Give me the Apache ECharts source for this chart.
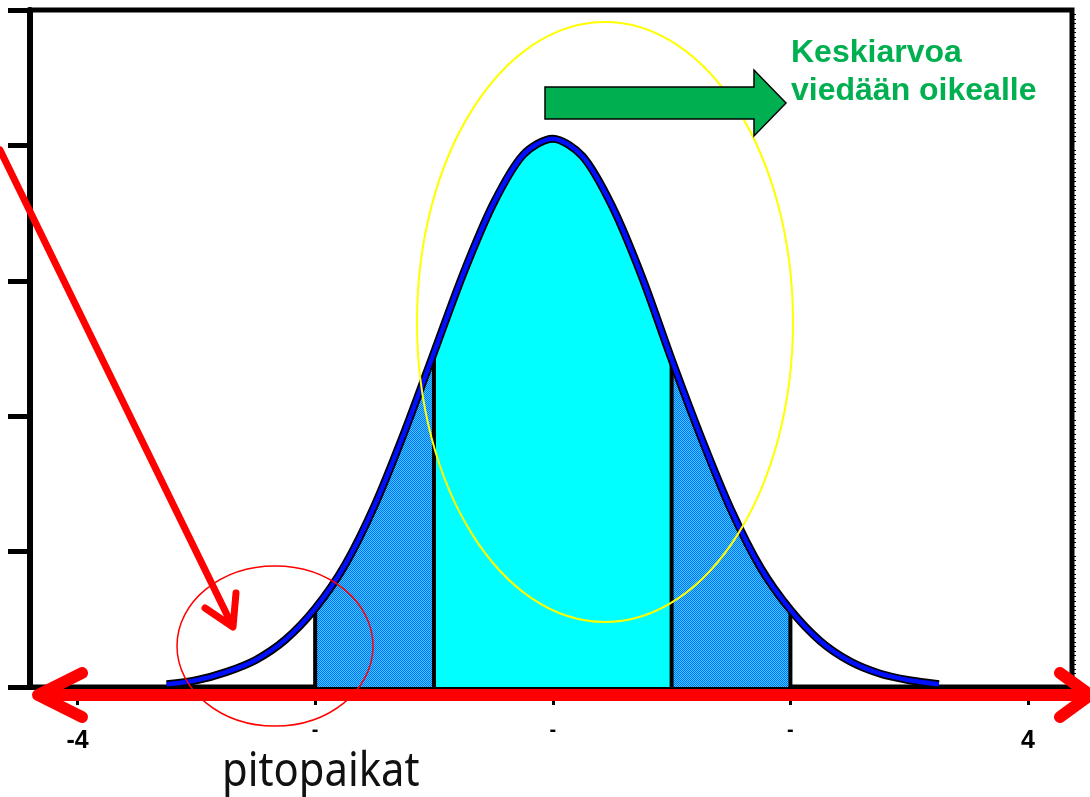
<!DOCTYPE html>
<html>
<head>
<meta charset="utf-8">
<script src="https://cdn.jsdelivr.net/npm/echarts@6/dist/echarts.min.js"></script>
<style>
  html, body { margin: 0; padding: 0; background: #fff; }
  #chart { width: 1090px; height: 797px; }
</style>
</head>
<body>
<div id="chart"></div>
<script>
// curve (x in sd units, y = density)
const xs = [-3.25, -3, -2.75, -2.5, -2.25, -2, -1.75, -1.5, -1.25, -1, -0.75, -0.5, -0.25, 0,
            0.25, 0.5, 0.75, 1, 1.25, 1.5, 1.75, 2, 2.25, 2.5, 2.75, 3, 3.25];
const density = [0.002, 0.005, 0.011, 0.02, 0.035, 0.058, 0.09, 0.134, 0.188, 0.247, 0.306, 0.357, 0.393, 0.405,
                 0.392, 0.355, 0.303, 0.242, 0.184, 0.131, 0.088, 0.057, 0.034, 0.019, 0.01, 0.005, 0.002];
const bounds = [-2, -1, 1, 2];
const xTicks = [-4, -2, 0, 2, 4];
const xTickLabels = ['-4', '-', '-', '-', '4'];

const pts = xs.map((x, i) => [x, density[i]]);
const slice = (a, b) => pts.filter(p => p[0] >= a && p[0] <= b);

// dotted blue fill
const pc = document.createElement('canvas');
pc.width = 2; pc.height = 2;
const pctx = pc.getContext('2d');
pctx.fillStyle = '#38ccff'; pctx.fillRect(0, 0, 2, 2);
pctx.fillStyle = '#0a6cff'; pctx.fillRect(0, 0, 1, 1); pctx.fillRect(1, 1, 1, 1);
const dotted = { image: pc, repeat: 'repeat' };

const chart = echarts.init(document.getElementById('chart'));

const areaSeries = (data, color) => ({
  type: 'line', data: data, smooth: 0.3, symbol: 'none', z: 2,
  lineStyle: { width: 0 }, areaStyle: { color: color, opacity: 1 }
});

const series = [
  areaSeries(slice(-2, -1), dotted),
  areaSeries(slice(1, 2), dotted),
  areaSeries(slice(-1, 1), '#00ffff')
];
bounds.forEach(b => {
  series.push({
    type: 'line', symbol: 'none', z: 3,
    data: [[b, 0], [b, density[xs.indexOf(b)]]],
    lineStyle: { color: '#000', width: 4 }
  });
});
series.push({
  type: 'line', data: pts, smooth: 0.3, symbol: 'none', z: 4,
  lineStyle: { color: '#000', width: 8 }
});
series.push({
  type: 'line', data: pts, smooth: 0.3, symbol: 'none', z: 5,
  lineStyle: { color: '#0010ff', width: 4.5 }
});

chart.setOption({
  animation: false,
  backgroundColor: '#fff',
  grid: {
    left: 30, right: 18, top: 10, bottom: 110,
    containLabel: false, outerBoundsMode: 'none',
    show: true, borderColor: '#000', borderWidth: 5
  },
  xAxis: {
    type: 'value', min: -4.4, max: 4.37,
    axisLine: { onZero: false, lineStyle: { color: '#000', width: 5 } },
    axisTick: { customValues: xTicks, length: 18, lineStyle: { color: '#000', width: 3 } },
    axisLabel: {
      customValues: xTicks, margin: 30,
      formatter: v => {
        const s = xTickLabels[xTicks.indexOf(v)];
        return s === '-' ? '{d|-}' : '{n|' + s + '}';
      },
      rich: {
        n: { fontFamily: 'Liberation Sans', fontWeight: 'bold', fontSize: 25, color: '#000', padding: [12, 0, 0, 0] },
        d: { fontFamily: 'Liberation Sans', fontWeight: 'bold', fontSize: 20, color: '#000', padding: [3, 0, 0, 0] }
      }
    },
    splitLine: { show: false }
  },
  yAxis: [{
    type: 'value', min: 0, max: 0.5, interval: 0.1,
    axisLine: { show: true, onZero: false, lineStyle: { color: '#000', width: 6 } },
    axisTick: { show: true, length: 22, lineStyle: { color: '#000', width: 5 } },
    axisLabel: { show: false },
    splitLine: { show: false }
  }, {
    type: 'value', min: 0, max: 0.5, interval: 0.1, position: 'right',
    axisLine: { show: true, onZero: false, lineStyle: { color: '#000', width: 4 } },
    axisTick: { show: false },
    minorTick: { show: true, splitNumber: 30, length: 4, lineStyle: { color: '#000', width: 1 } },
    axisLabel: { show: false },
    splitLine: { show: false }
  }],
  series: series,
  graphic: [
    { type: 'ellipse', z: 100, shape: { cx: 605, cy: 322, rx: 188, ry: 300 },
      style: { fill: 'none', stroke: '#ffff00', lineWidth: 2 } },
    { type: 'ellipse', z: 100, shape: { cx: 275, cy: 646, rx: 98, ry: 80 },
      style: { fill: 'none', stroke: '#ff0000', lineWidth: 1.5 } },
    { type: 'line', z: 101, shape: { x1: 0, y1: 150, x2: 232, y2: 625 },
      style: { stroke: '#ff0000', lineWidth: 7, lineCap: 'round' } },
    { type: 'polyline', z: 101, shape: { points: [[205, 608], [233, 627], [236, 593]] },
      style: { stroke: '#ff0000', lineWidth: 7, lineCap: 'round', lineJoin: 'round', fill: 'none' } },
    { type: 'line', z: 101, shape: { x1: 40, y1: 695, x2: 1088, y2: 695 },
      style: { stroke: '#ff0000', lineWidth: 12 } },
    { type: 'polyline', z: 101, shape: { points: [[82, 673], [38, 695], [82, 717]] },
      style: { stroke: '#ff0000', lineWidth: 12, lineCap: 'round', lineJoin: 'round', fill: 'none' } },
    { type: 'polyline', z: 101, shape: { points: [[1060, 673], [1090, 695], [1060, 717]] },
      style: { stroke: '#ff0000', lineWidth: 12, lineCap: 'round', lineJoin: 'round', fill: 'none' } },
    { type: 'polygon', z: 102,
      shape: { points: [[545, 87], [754, 87], [754, 70], [786, 103], [754, 136], [754, 119], [545, 119]] },
      style: { fill: '#00b050', stroke: '#000', lineWidth: 1.5 } },
    { type: 'text', z: 102, x: 791, y: 53,
      style: { text: 'Keskiarvoa', fill: '#00b050', font: 'bold 32px "Liberation Sans"', verticalAlign: 'middle' } },
    { type: 'text', z: 102, x: 791, y: 91,
      style: { text: 'viedään oikealle', fill: '#00b050', font: 'bold 32px "Liberation Sans"', verticalAlign: 'middle' } },
    { type: 'text', z: 102, x: 222, y: 772, scaleX: 0.87,
      style: { text: 'pitopaikat', fill: '#111', font: '48px "Noto Sans"', verticalAlign: 'middle' } }
  ]
});
</script>
</body>
</html>
